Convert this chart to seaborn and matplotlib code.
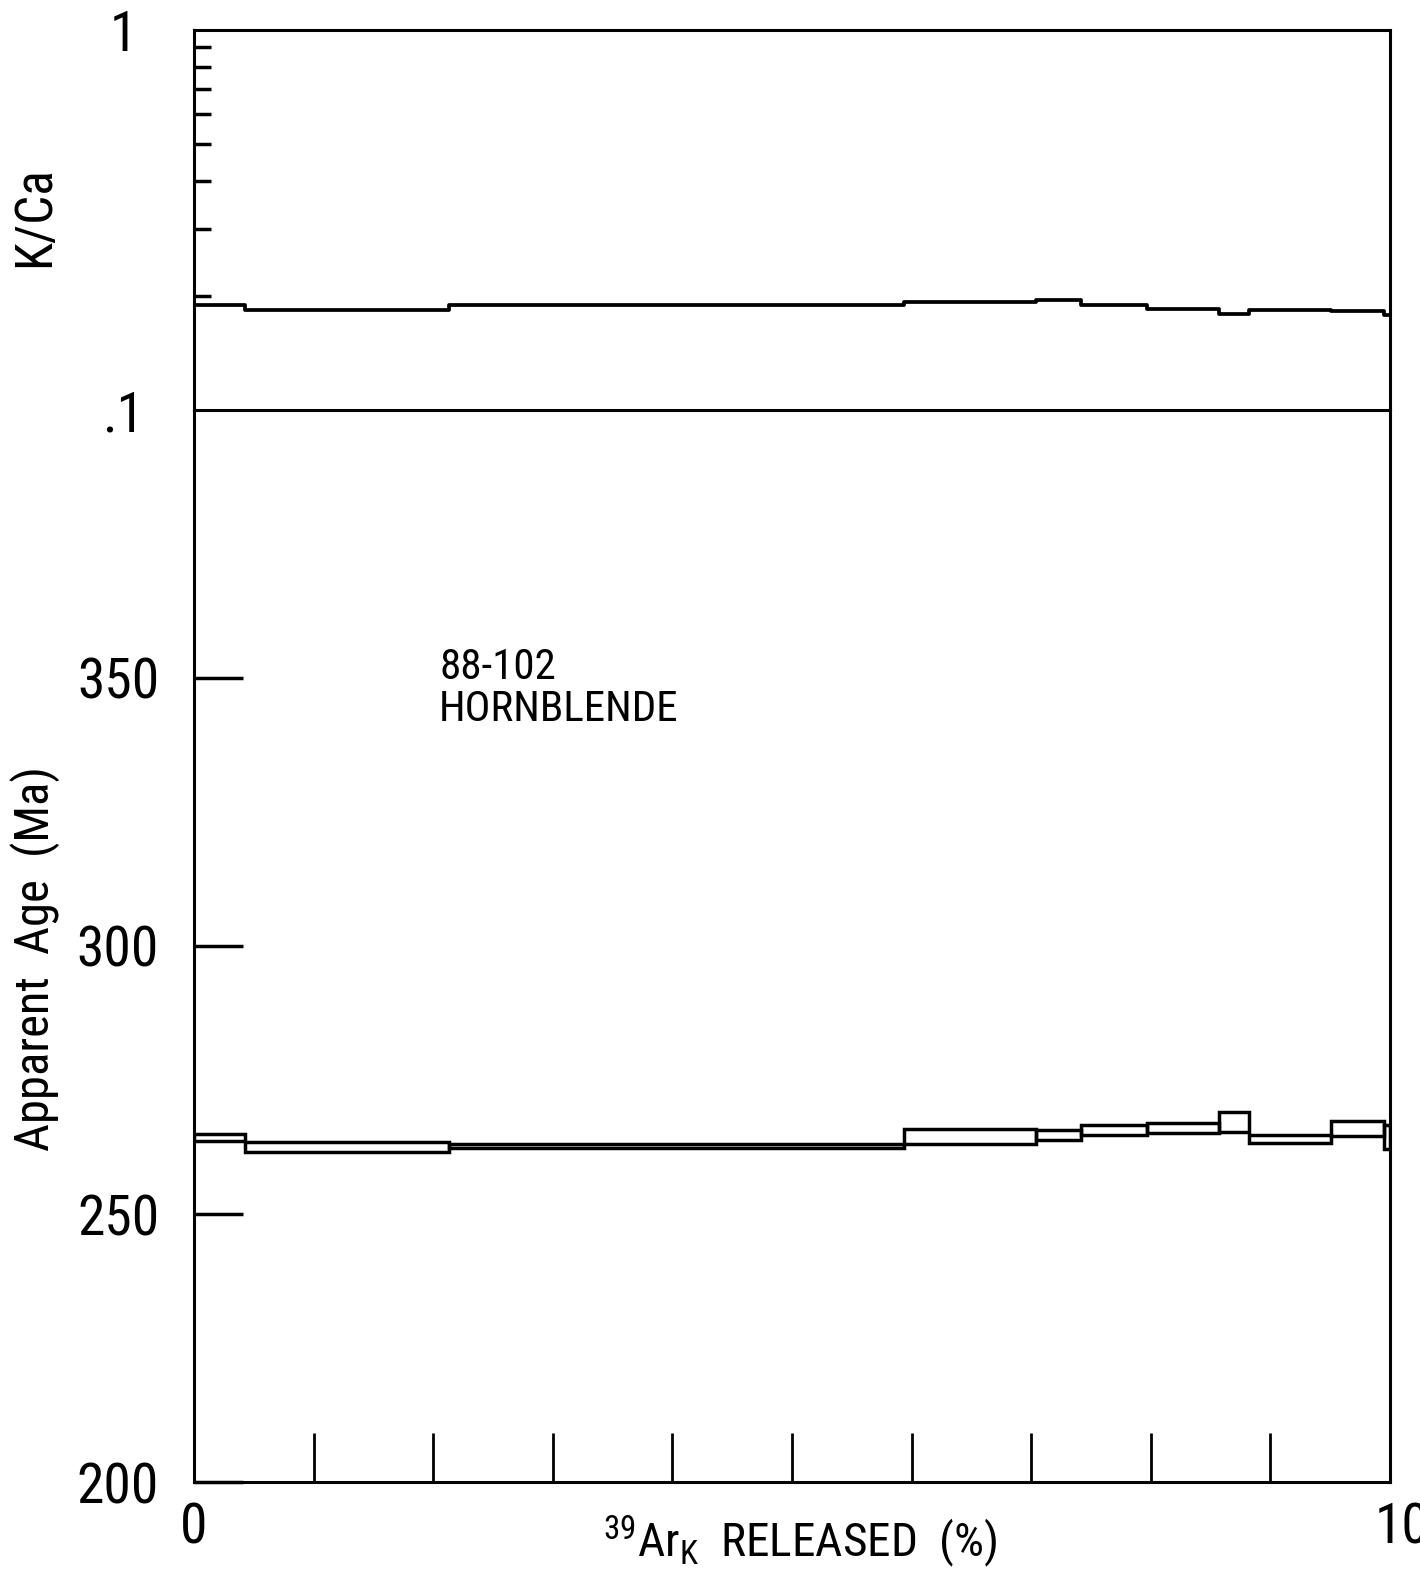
import numpy as np
import pandas as pd
import matplotlib
matplotlib.use("Agg")
import matplotlib.pyplot as plt
import matplotlib.transforms as mtransforms
from matplotlib import font_manager
from matplotlib.ticker import NullFormatter
import seaborn as sns

# ---------------- data ----------------
step_edges = [0, 4.3, 21.3, 59.4, 70.4, 74.2, 79.7, 85.7, 88.2, 95.1, 99.5, 100]
ages = [264.3, 262.5, 262.7, 264.4, 264.7, 265.7, 266.1, 267.2, 264.0, 265.9, 264.4]
age_err = [0.6, 1.0, 0.35, 1.4, 0.9, 0.9, 0.9, 1.9, 0.8, 1.4, 2.2]
kca = [0.1886, 0.1834, 0.189, 0.192, 0.195, 0.189, 0.1845, 0.179, 0.1834, 0.1817, 0.1776]

age_ticks = [200, 250, 300, 350]
age_ticklabels = ["200", "250", "300", "350"]
kca_ticks = [0.1, 1]
kca_ticklabels = [".1", "1"]
kca_minor = [0.2, 0.3, 0.4, 0.5, 0.6, 0.7, 0.8, 0.9]
x_ticks = [0, 100]
x_ticklabels = ["0", "100"]
x_minor = [10, 20, 30, 40, 50, 60, 70, 80, 90]
sample_label = "88-102\nHORNBLENDE"
kca_label = "K/Ca"
age_label = "Apparent  Age  (Ma)"
x_label = r"$^{\mathrm{39}}\mathrm{Ar}_{\mathrm{K}}$  RELEASED  (%)"

# ---------------- style ----------------
sns.set_theme(style="white")
names = {f.name for f in font_manager.fontManager.ttflist}
FAM = "Roboto"
for cand in ["Liberation Sans Narrow", "Roboto Condensed", "Open Sans Condensed", "Roboto"]:
    if cand in names:
        FAM = cand
        break
S = 1.0 if FAM != "Roboto" else 0.9
plt.rcParams["font.family"] = [FAM, "DejaVu Sans"]
plt.rcParams["mathtext.fontset"] = "custom"
plt.rcParams["mathtext.rm"] = FAM
plt.rcParams["mathtext.it"] = FAM
plt.rcParams["mathtext.bf"] = FAM

LW = 2.2
fig = plt.figure(figsize=(14.2, 15.79), dpi=100)
fig.patch.set_facecolor("white")
ax_top = fig.add_axes([0.1366, 0.7403, 0.8423, 0.2407])
ax_age = fig.add_axes([0.1366, 0.0614, 0.8423, 0.6790])
for ax in (ax_top, ax_age):
    ax.patch.set_alpha(0)

# ---------------- K/Ca panel ----------------
df_k = pd.DataFrame({"pct": step_edges, "kca": kca + [kca[-1]]})
sns.lineplot(data=df_k, x="pct", y="kca", drawstyle="steps-post", estimator=None,
             sort=False, color="black", linewidth=2.7, ax=ax_top)
ax_top.set_yscale("log")
ax_top.set_ylim(0.1, 1)
ax_top.set_xlim(0, 100)
ax_top.set_xticks([])
ax_top.set_xlabel("")
ax_top.set_yticks(kca_ticks, labels=kca_ticklabels, ha="center")
ax_top.set_yticks(kca_minor, minor=True)
ax_top.yaxis.set_minor_formatter(NullFormatter())
ax_top.tick_params(axis="y", which="major", left=True, length=0, pad=51,
                   labelsize=40 * S, colors="black")
ax_top.tick_params(axis="y", which="minor", left=True, direction="in", length=12,
                   width=2.5, color="black")
for sp in ax_top.spines.values():
    sp.set_visible(True)
    sp.set_color("black")
    sp.set_linewidth(LW)
ax_top.set_ylabel(kca_label, fontsize=37 * S, color="black")
ax_top.yaxis.set_label_coords(-0.112, 0.51)

# ---------------- Age spectrum panel ----------------
lefts = np.array(step_edges[:-1])
widths = np.diff(step_edges)
a = np.array(ages)
e = np.array(age_err)
ax_age.bar(lefts, 2 * e, width=widths, bottom=a - e, align="edge", fill=False,
           edgecolor="black", linewidth=2.5)
ax_age.set_ylim(200, 400)
ax_age.set_xlim(0, 100)
ax_age.set_yticks(age_ticks, labels=age_ticklabels)
ax_age.tick_params(axis="y", which="major", left=True, direction="in", length=35,
                   width=2.5, pad=25, labelsize=40 * S, colors="black")
ax_age.set_xticks(x_ticks, labels=x_ticklabels)
ax_age.set_xticks(x_minor, minor=True)
ax_age.tick_params(axis="x", which="major", bottom=True, length=0, pad=14,
                   labelsize=40 * S, colors="black")
ax_age.tick_params(axis="x", which="minor", bottom=True, direction="in", length=35,
                   width=2.0, color="black")
for name, sp in ax_age.spines.items():
    sp.set_color("black")
    sp.set_linewidth(LW)
    sp.set_visible(name != "top")

ax_age.text(20.5, 355.8, sample_label, ha="left", va="top", fontsize=31 * S,
            linespacing=1.05, color="black")
ax_age.set_ylabel(age_label, fontsize=35 * S, color="black")
ax_age.yaxis.set_label_coords(-0.112, 0.488)
ax_age.set_xlabel(x_label, fontsize=34 * S, color="black")
ax_age.xaxis.set_label_coords(0.507, -0.029)

# the "100" label runs off the right edge as in the reference
lab = ax_age.get_xticklabels()[1]
lab.set_ha("left")
lab.set_transform(lab.get_transform() +
                  mtransforms.ScaledTranslation(-0.15, 0, fig.dpi_scale_trans))

fig.savefig("out.png", dpi=100, facecolor="white")
